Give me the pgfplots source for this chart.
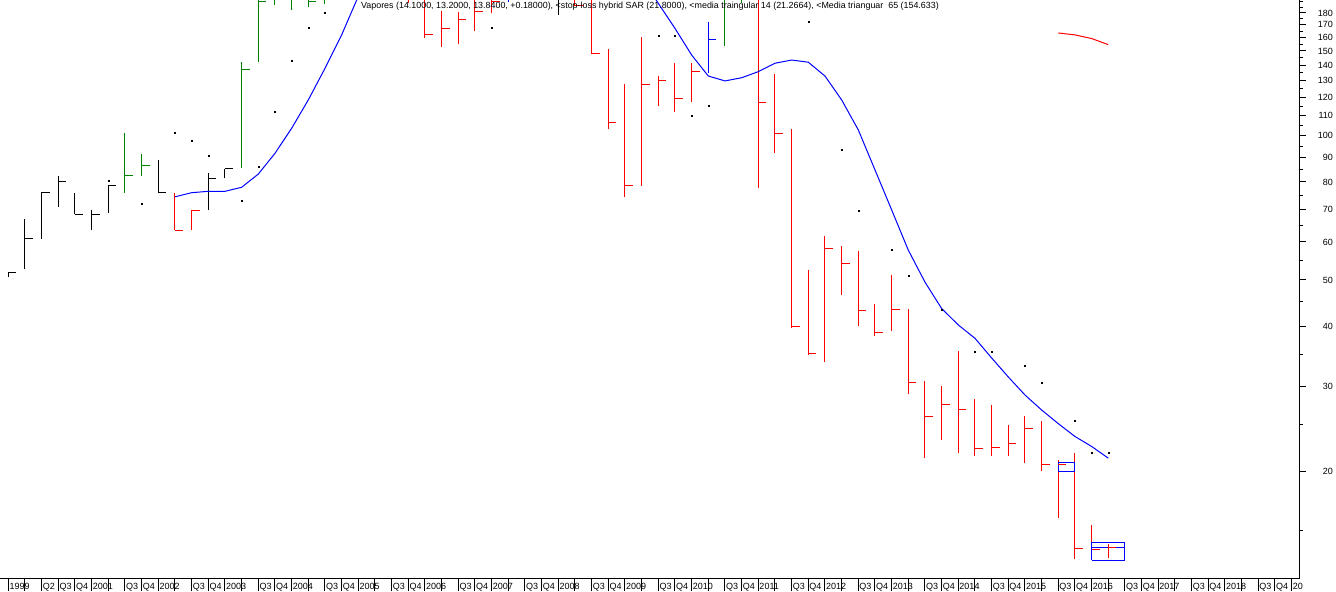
\documentclass[border=0pt]{standalone}
\usepackage{fontspec}
\setmainfont{Liberation Sans}
\usepackage{pgfplots}
\pgfplotsset{compat=1.18}
\pgfdeclareplotmark{rtick}{\pgfpathmoveto{\pgfpointorigin}\pgfpathlineto{\pgfpoint{8bp}{0pt}}\pgfusepathqstroke}
\definecolor{bargreen}{RGB}{0,128,0}
\newcommand{\lab}{\fontsize{9bp}{10bp}\selectfont}
\newcommand{\ttl}{\fontsize{8.9bp}{10bp}\selectfont}
\begin{document}
\begin{tikzpicture}
\path[use as bounding box] (0,-13bp) rectangle (1336bp,579bp);
\begin{axis}[
  at={(0,0)}, anchor=south west,
  scale only axis, width=1300bp, height=579bp,
  xmin=-0.5, xmax=77.5,
  ymode=log, ymin=11.913, ymax=191.55,
  axis x line*=bottom, axis y line*=right,
  axis line style={-, line width=1bp, black},
  tick align=outside,
  xtick={0,...,77},
  xticklabels={1999,,Q2,Q3,Q4,2001,,Q3,Q4,2002,,Q3,Q4,2003,,Q3,Q4,2004,,Q3,Q4,2005,,Q3,Q4,2006,,Q3,Q4,2007,,Q3,Q4,2008,,Q3,Q4,2009,,Q3,Q4,2010,,Q3,Q4,2011,,Q3,Q4,2012,,Q3,Q4,2013,,Q3,Q4,2014,,Q3,Q4,2015,,Q3,Q4,2016,,Q3,Q4,2017,,Q3,Q4,2018,,Q3,Q4,20},
  xtick style={black, line width=1bp, /pgfplots/major tick length=12bp},
  xticklabel style={anchor=north west, inner sep=0pt, xshift=1bp, yshift=0bp, font=\lab},
  ytick={20,30,40,50,60,70,80,90,100,110,120,130,140,150,160,170,180},
  yticklabels={20,30,40,50,60,70,80,90,100,110,120,130,140,150,160,170,180},
  minor ytick={15,25,35,45,55,65,75,85,95,105,115,125,135,145,155,165,175,185,190},
  ytick style={black, line width=1bp, /pgfplots/major tick length=6bp, /pgfplots/minor tick length=3bp},
  yticklabel style={anchor=east, inner sep=0pt, xshift=29bp, font=\lab},
  unbounded coords=jump,
]
% ---- black bars: high-low ----
\addplot[black, line width=1bp] coordinates {
(0,50.8) (0,51.9) (0,nan)
(1,52.6) (1,67.0) (1,nan)
(2,60.9) (2,76.2) (2,nan)
(3,71.1) (3,82.3) (3,nan)
(4,68.5) (4,75.9) (4,nan)
(5,63.5) (5,69.8) (5,nan)
(6,68.9) (6,78.9) (6,nan)
(9,76.2) (9,88.9) (9,nan)
(12,70.0) (12,83.5) (12,nan)
(13,81.4) (13,85.2) (13,nan)
(33,178.3) (33,215) (33,nan)
};
\addplot[black, line width=1bp, only marks, mark=rtick] coordinates {
(0,51.9) (1,61.1) (2,76.2) (3,80.3) (4,68.5) (5,68.5) (6,78.7) (9,76.2) (12,81.4) (13,85.2)
};
% ---- green bars ----
\addplot[bargreen, line width=1bp] coordinates {
(7,76.0) (7,101.2) (7,nan)
(8,82.5) (8,91.5) (8,nan)
(14,85.7) (14,142.5) (14,nan)
(15,142.1) (15,205) (15,nan)
(16,187.0) (16,230) (16,nan)
(17,182.6) (17,240) (17,nan)
(18,185.5) (18,235) (18,nan)
(19,187.9) (19,245) (19,nan)
(20,205) (20,270) (20,nan)
(21,215) (21,285) (21,nan)
(43,153.8) (43,215) (43,nan)
(44,188.8) (44,225) (44,nan)
};
\addplot[bargreen, line width=1bp, only marks, mark=rtick] coordinates {
(7,82.7) (8,86.5) (14,137.4) (15,190.6) (18,190.0)
};
% ---- red bars ----
\addplot[red, line width=1bp] coordinates {
(10,63.5) (10,75.9) (10,nan)
(11,63.5) (11,69.8) (11,nan)
(22,220) (22,290) (22,nan)
(23,200) (23,260) (23,nan)
(24,189.1) (24,255) (24,nan)
(25,159.8) (25,215) (25,nan)
(26,153.1) (26,181.7) (26,nan)
(27,154.8) (27,180.6) (27,nan)
(28,165.3) (28,205) (28,nan)
(29,180.2) (29,210) (29,nan)
(31,205) (31,240) (31,nan)
(32,200) (32,235) (32,nan)
(34,186.1) (34,215) (34,nan)
(35,147.6) (35,205) (35,nan)
(36,103.0) (36,151.4) (36,nan)
(37,74.6) (37,128.0) (37,nan)
(38,78.6) (38,160.1) (38,nan)
(39,115.2) (39,133.0) (39,nan)
(40,112.1) (40,141.6) (40,nan)
(41,117.6) (41,141.8) (41,nan)
(45,77.6) (45,205) (45,nan)
(46,91.8) (46,134.3) (46,nan)
(47,39.7) (47,103.2) (47,nan)
(48,34.9) (48,52.5) (48,nan)
(49,33.8) (49,61.7) (49,nan)
(50,46.5) (50,58.8) (50,nan)
(51,40.0) (51,57.5) (51,nan)
(52,38.3) (52,44.6) (52,nan)
(53,39.2) (53,51.2) (53,nan)
(54,28.9) (54,43.5) (54,nan)
(55,21.3) (55,30.8) (55,nan)
(56,23.2) (56,30.1) (56,nan)
(57,21.8) (57,35.6) (57,nan)
(58,21.5) (58,28.3) (58,nan)
(59,21.5) (59,27.4) (59,nan)
(60,21.5) (60,24.9) (60,nan)
(61,20.8) (61,26.0) (61,nan)
(62,20.0) (62,25.4) (62,nan)
(63,16.0) (63,21.1) (63,nan)
(64,13.1) (64,21.8) (64,nan)
(65,13.05) (65,15.4) (65,nan)
(66,13.2) (66,14.1) (66,nan)
};
\addplot[red, line width=1bp, only marks, mark=rtick] coordinates {
(10,63.5) (11,69.8) (25,162.7) (26,167.2) (27,174.6) (28,181.1) (29,190.0) (34,186.1) (35,148.3) (36,106.5) (37,78.5) (38,127.8) (39,129.9) (40,119.6) (41,136.1) (45,117.3) (46,101.0) (47,40.0) (48,35.2) (49,58.2) (50,54.2) (51,43.1) (52,38.9) (53,43.4) (54,30.6) (55,26.0) (56,27.5) (57,26.9) (58,22.3) (59,22.4) (60,22.8) (61,24.5) (62,20.6) (63,20.6) (64,13.8) (65,13.7) (66,13.84)
};
% ---- blue bars ----
\addplot[blue, line width=1bp] coordinates {
(30,189.7) (30,230) (30,nan)
(42,135.2) (42,172.1) (42,nan)
};
\addplot[blue, line width=1bp, only marks, mark=rtick] coordinates {(42,158.6)};
% ---- SAR dots ----
\addplot[black, only marks, mark=square*, mark size=0.5bp] coordinates {
(6,80.3) (8,72.2) (10,101.5) (11,97.7) (12,90.9) (14,73.3) (15,85.9) (16,112.3) (17,142.8) (18,168.0) (19,180.6) (29,168.0) (39,161.2) (40,161.2) (41,109.7) (42,115.6) (48,172.9) (50,93.6) (51,69.8) (53,57.7) (54,51.1) (56,43.4) (58,35.5) (59,35.5) (61,33.1) (62,30.5) (64,25.5) (65,21.8) (66,21.8)
};
% ---- triangular MA 14 ----
\addplot[blue, line width=1bp] coordinates {
(10,74.5) (11,76.0) (12,76.5) (13,76.5) (14,78.0) (15,83.1) (16,91.8) (17,103.5) (18,118.6) (19,138.0) (20,162.0) (21,195) (22,222) (23,248) (24,270) (25,288) (26,300) (27,308) (28,312) (29,312) (30,308) (31,300) (32,290) (33,278) (34,265) (35,252) (36,240) (37,228) (38,213) (39,188.5) (40,167.2) (41,147.1) (42,133.0) (43,129.9) (44,131.9) (45,135.8) (46,141.4) (47,143.6) (48,142.1) (49,133.0) (50,118.6) (51,102.7) (52,84.8) (53,70.0) (54,57.7) (55,49.5) (56,43.6) (57,40.3) (58,37.8) (59,34.4) (60,31.4) (61,28.8) (62,26.8) (63,25.1) (64,23.6) (65,22.5) (66,21.27)
};
% ---- triangular MA 65 ----
\addplot[red, line width=1bp] coordinates {(63,163.5) (64,162.0) (65,159.2) (66,154.6)};
% ---- boxes ----
\addplot[blue, line width=1bp] coordinates {(63,20.0) (64,20.0) (64,20.85) (63,20.85) (63,20.0)};
\addplot[blue, line width=1bp] coordinates {(65,13.03) (67,13.03) (67,14.2) (65,14.2) (65,13.03)};
\addplot[blue, line width=1bp] coordinates {(65,13.87) (67,13.87)};
\end{axis}
\node[anchor=north, inner sep=0pt, font=\ttl] at (650bp,577bp) {Vapores (14.1000, 13.2000, 13.8400, +0.18000), <stop-loss hybrid SAR (21.8000), <media traingular 14 (21.2664), <Media trianguar~ 65 (154.633)};
\end{tikzpicture}
\end{document}
